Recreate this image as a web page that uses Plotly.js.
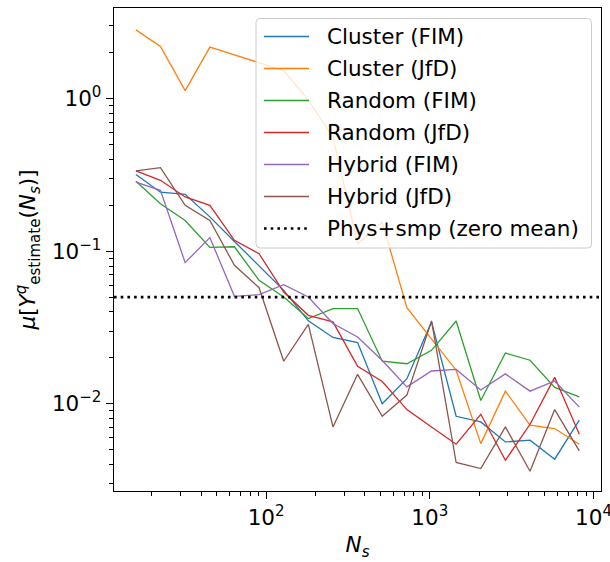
<!DOCTYPE html>
<html><head><meta charset="utf-8">
<script src="https://cdn.plot.ly/plotly-3.0.1.min.js"></script>
<style>html,body{margin:0;padding:0;background:#fff}#chart{width:610px;height:562px}</style>
</head><body><div id="chart"></div>
<script>
// ---- data ----
const Ns = [16, 22.6, 32, 45.3, 64, 90.5, 128, 181, 256, 362, 512, 724, 1024, 1448, 2048, 2896, 4096, 5793, 8192];
const clusterFIM = [0.319, 0.244, 0.236, 0.168, 0.116, 0.0796, 0.0554, 0.0350, 0.0272, 0.0252, 0.0100, 0.0146, 0.0344, 0.00828, 0.00760, 0.00562, 0.00577, 0.00433, 0.00780];
const clusterJfD = [2.83, 2.20, 1.13, 2.18, 1.94, 1.73, 1.53, 0.98, 0.56, 0.112, 0.155, 0.0427, 0.0267, 0.0166, 0.00548, 0.0121, 0.00723, 0.00688, 0.00543];
const randomFIM  = [0.288, 0.205, 0.159, 0.106, 0.107, 0.0645, 0.0501, 0.0362, 0.0421, 0.0421, 0.0190, 0.0183, 0.0224, 0.0349, 0.0105, 0.0215, 0.0193, 0.0128, 0.0111];
const randomJfD  = [0.336, 0.292, 0.227, 0.200, 0.118, 0.0964, 0.0540, 0.0380, 0.0344, 0.0176, 0.0140, 0.00916, 0.00705, 0.00543, 0.00853, 0.00426, 0.00734, 0.0149, 0.00631];
const hybridFIM  = [0.284, 0.251, 0.0842, 0.123, 0.0506, 0.0520, 0.0604, 0.0501, 0.0336, 0.0274, 0.0192, 0.0129, 0.0164, 0.0168, 0.0123, 0.0157, 0.0121, 0.0141, 0.0095];
const hybridJfD  = [0.336, 0.353, 0.200, 0.159, 0.0809, 0.0577, 0.0190, 0.0332, 0.00705, 0.0156, 0.00828, 0.0114, 0.0349, 0.00412, 0.00376, 0.00705, 0.00361, 0.00916, 0.00491];
const seriesNames = ['Cluster (FIM)', 'Cluster (JfD)', 'Random (FIM)', 'Random (JfD)', 'Hybrid (FIM)', 'Hybrid (JfD)'];
const seriesValues = [clusterFIM, clusterJfD, randomFIM, randomJfD, hybridFIM, hybridJfD];
const seriesColors = ['#1f77b4', '#ff7f0e', '#2ca02c', '#d62728', '#9467bd', '#8c564b'];
const zeroMeanName = 'Phys+smp (zero mean)';
const zeroMean = [0.05];
const xTickVals = [100, 1000, 10000];
const xTickText = ['10<sup>2</sup>', '10<sup>3</sup>', '10<sup>4</sup>'];
const yTickVals = [1, 0.1, 0.01];
const yTickText = ['10<sup>0</sup>', '10<sup>\u22121</sup>', '10<sup>\u22122</sup>'];

// ---- minor ticks ----
function minorVals(d0, d1) {
  const v = [];
  for (let d = d0; d <= d1; d++) for (let m = 2; m <= 9; m++) v.push(m * Math.pow(10, d));
  return v;
}

const FONT = 'DejaVu Sans, sans-serif';
const FS = 21.5;

const traces = seriesNames.map((n, i) => ({
  type: 'scatter', mode: 'lines', name: n, x: Ns, y: seriesValues[i],
  line: {color: seriesColors[i], width: 1.3}, showlegend: false
}));

// plot area in px
const L = 114, R = 601, T = 8, B = 491;
const W = 610, H = 562;
const pw = R - L, ph = B - T;
const px2x = p => (p - L) / pw;
const py2y = p => (B - p) / ph;

const shapes = [];
const annotations = [];
// zero-mean dotted line
shapes.push({type: 'line', xref: 'paper', yref: 'y', x0: 0, x1: 1, y0: zeroMean[0], y1: zeroMean[0],
  line: {color: 'black', width: 2.6, dash: '2.6px,4.1px'}, layer: 'above'});

// legend box (rounded)
const bx0 = px2x(256), bx1 = px2x(591.5), by0 = py2y(248), by1 = py2y(18.5);
const rx = 4 / pw, ry = 4 / ph;
const path = `M ${bx0 + rx} ${by0} L ${bx1 - rx} ${by0} Q ${bx1} ${by0} ${bx1} ${by0 + ry} L ${bx1} ${by1 - ry} Q ${bx1} ${by1} ${bx1 - rx} ${by1} L ${bx0 + rx} ${by1} Q ${bx0} ${by1} ${bx0} ${by1 - ry} L ${bx0} ${by0 + ry} Q ${bx0} ${by0} ${bx0 + rx} ${by0} Z`;
shapes.push({type: 'path', xref: 'paper', yref: 'paper', path: path,
  fillcolor: 'rgba(255,255,255,0.8)', line: {color: '#cccccc', width: 1}, layer: 'above'});

const legNames = seriesNames.concat([zeroMeanName]);
const legColors = seriesColors.concat(['black']);
legNames.forEach((n, i) => {
  const yp = py2y(36.5 + i * 32.0);
  const isDot = i === legNames.length - 1;
  shapes.push({type: 'line', xref: 'paper', yref: 'paper', x0: px2x(264), x1: px2x(309), y0: yp, y1: yp,
    line: {color: legColors[i], width: isDot ? 2.6 : 1.3, dash: isDot ? '2.6px,4.1px' : 'solid'}, layer: 'above'});
  annotations.push({xref: 'paper', yref: 'paper', x: px2x(325), y: yp, xanchor: 'left', yanchor: 'middle',
    text: n, showarrow: false, font: {family: FONT, size: FS, color: 'black'}});
});

const axisCommon = {
  type: 'log', tickmode: 'array', ticks: 'outside', ticklen: 7, tickwidth: 1.25, tickcolor: 'black',
  showline: true, mirror: true, linecolor: 'black', linewidth: 1.25, showgrid: false, zeroline: false,
  ticklabeloverflow: 'allow',
  tickfont: {family: FONT, size: FS, color: 'black'}
};

const layout = {
  width: W, height: H, paper_bgcolor: 'white', plot_bgcolor: 'white',
  margin: {l: L, r: W - R, t: T, b: H - B, pad: 0},
  showlegend: false,
  font: {family: FONT, size: FS, color: 'black'},
  xaxis: Object.assign({}, axisCommon, {
    range: [1.0703, 4.0459], tickvals: xTickVals, ticktext: xTickText,
    minor: {tickmode: 'array', tickvals: minorVals(1, 3), ticks: 'outside', ticklen: 4, tickwidth: 1, tickcolor: 'black', showgrid: false},
    title: {text: '<i>N</i><sub><i>s</i></sub>', font: {family: FONT, size: FS, color: 'black'}, standoff: 8}
  }),
  yaxis: Object.assign({}, axisCommon, {
    range: [-2.572, 0.595], tickvals: yTickVals, ticktext: yTickText,
    minor: {tickmode: 'array', tickvals: minorVals(-3, 0), ticks: 'outside', ticklen: 4, tickwidth: 1, tickcolor: 'black', showgrid: false},
    title: {text: '<i>\u03bc</i>[<i>Y</i><sup><i>q</i></sup><sub>estimate</sub>(<i>N</i><sub><i>s</i></sub>)]', font: {family: FONT, size: FS, color: 'black'}, standoff: 10}
  }),
  shapes: shapes,
  annotations: annotations
};

Plotly.newPlot('chart', traces, layout, {displayModeBar: false, staticPlot: true});
</script>
</body></html>
